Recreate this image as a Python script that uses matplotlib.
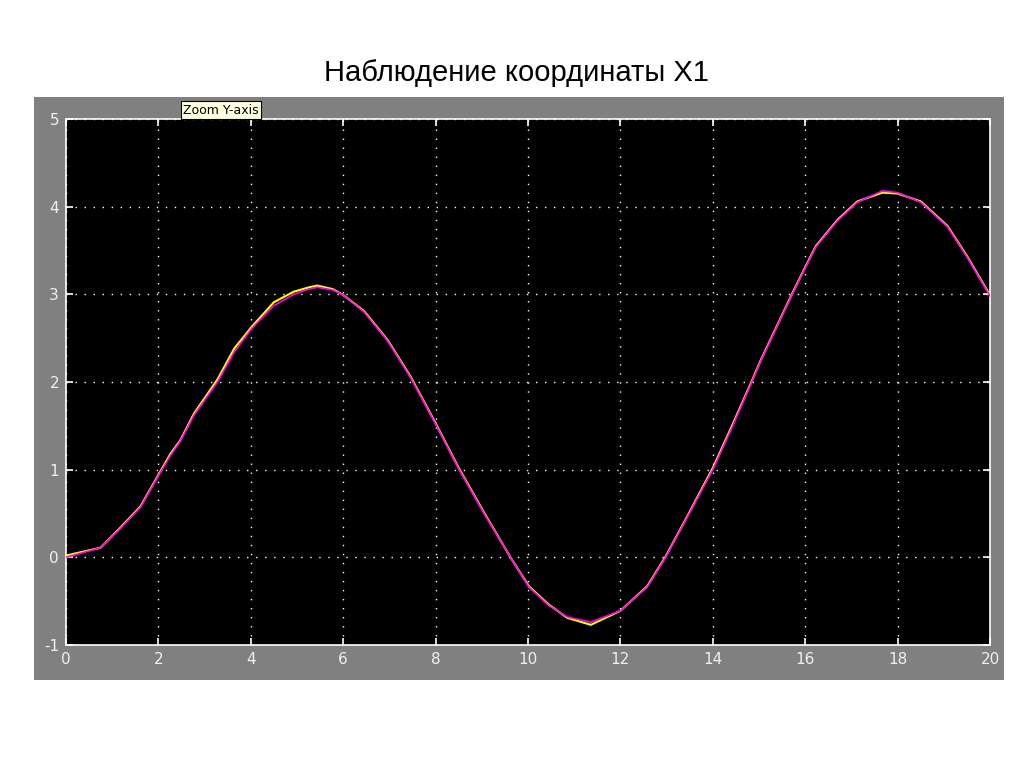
import matplotlib.pyplot as plt
from matplotlib.patches import Rectangle

plt.rcParams["axes.unicode_minus"] = False

# time samples (s)
t = [0.0, 0.75, 1.18, 1.61, 2.0, 2.26, 2.48, 2.77, 3.28, 3.64, 4.02, 4.5,
     4.93, 5.26, 5.44, 5.77, 5.98, 6.45, 6.96, 7.46, 8.0, 8.5, 9.05, 9.62,
     10.02, 10.45, 10.85, 11.36, 12.0, 12.58, 12.98, 13.45, 14.01, 14.39,
     14.86, 15.03, 15.72, 16.01, 16.23, 16.7, 17.13, 17.67, 18.0, 18.5,
     19.08, 19.51, 20.0]

# magenta trace
x1_model = [0.0, 0.11, 0.33, 0.57, 0.93, 1.16, 1.33, 1.62, 2.0, 2.34, 2.61,
            2.87, 3.0, 3.06, 3.08, 3.05, 3.0, 2.80, 2.47, 2.05, 1.52, 1.01,
            0.50, 0.0, -0.34, -0.55, -0.68, -0.74, -0.61, -0.34, 0.0, 0.46,
            1.01, 1.45, 2.02, 2.23, 3.0, 3.31, 3.54, 3.84, 4.05, 4.18, 4.16,
            4.05, 3.77, 3.42, 2.98]

# yellow trace
x1_observed = [0.02, 0.11, 0.34, 0.58, 0.94, 1.18, 1.34, 1.64, 2.03, 2.38,
               2.63, 2.91, 3.03, 3.08, 3.10, 3.06, 3.0, 2.81, 2.48, 2.06,
               1.53, 1.02, 0.51, 0.0, -0.33, -0.54, -0.69, -0.77, -0.61,
               -0.33, 0.01, 0.47, 1.03, 1.47, 2.03, 2.24, 3.01, 3.32, 3.55,
               3.85, 4.06, 4.16, 4.15, 4.06, 3.78, 3.43, 2.99]

W, H = 1024, 767
fig = plt.figure(figsize=(W / 100, H / 100), dpi=100)
fig.patch.set_facecolor("white")

# grey scope frame, drawn behind the axes
fig.patches.append(Rectangle((34 / W, 1 - 680 / H), (1004 - 34) / W, (680 - 97) / H,
                             transform=fig.transFigure, facecolor="#808080",
                             edgecolor="none", zorder=-10))

ax = fig.add_axes([66 / W, 1 - 645 / H, (990 - 66) / W, (645 - 119) / H])
ax.set_zorder(1)
ax.set_facecolor("black")

ax.plot(t, x1_observed, color="#ffff00", linewidth=1.5, zorder=3)
ax.plot(t, x1_model, color="#ff00ff", linewidth=1.2, zorder=4)

ax.set_xlim(0, 20)
ax.set_ylim(-1, 5)
ax.set_xticks(range(0, 21, 2))
ax.set_yticks(range(-1, 6))
ax.grid(True, color="white", linestyle=(0, (1, 5.5)), linewidth=1.0)
for s in ax.spines.values():
    s.set_color("white")
    s.set_linewidth(1.2)
ax.tick_params(direction="in", length=5, width=1.2, color="white",
               labelcolor="#f0f0f0", labelsize=11, pad=5,
               right=True, top=True)
for lab in ax.get_xticklabels() + ax.get_yticklabels():
    lab.set_family("DejaVu Sans")

fig.text(516 / W, 1 - 73 / H, "Наблюдение координаты Х1", ha="center",
         va="center", fontsize=21, family="Liberation Sans", color="black")

fig.text(221 / W, 1 - 110 / H, "Zoom Y-axis", ha="center", va="center",
         fontsize=9, family="DejaVu Sans", color="black", zorder=5,
         bbox=dict(boxstyle="square,pad=0.2", facecolor="#ffffe1",
                   edgecolor="black", linewidth=0.8))

fig.savefig("out.png", dpi=100)
